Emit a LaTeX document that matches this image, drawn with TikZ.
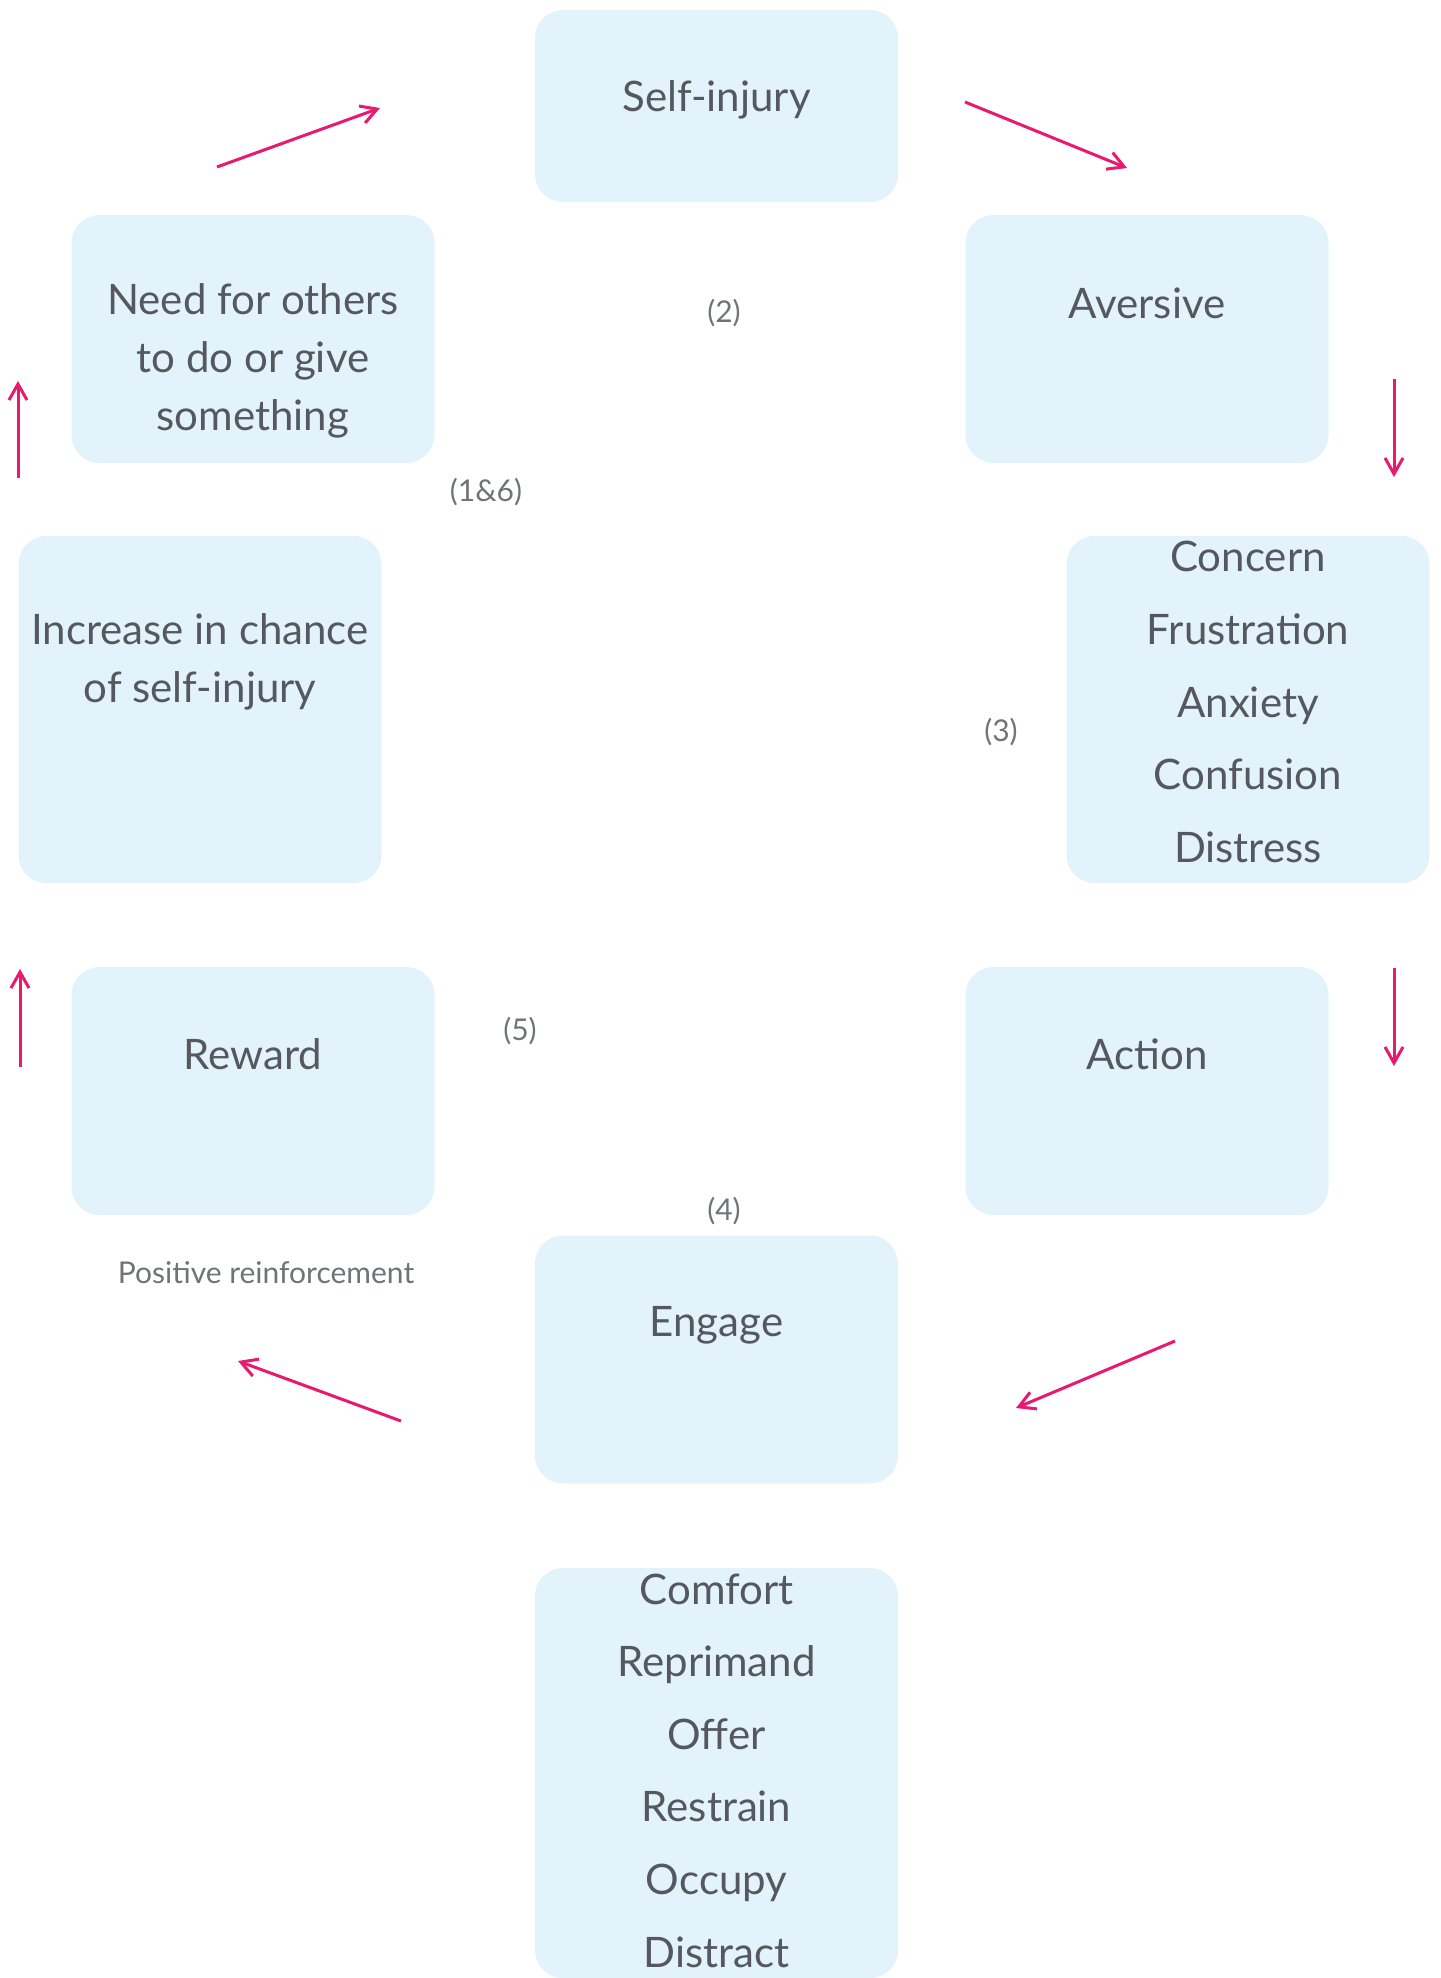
\documentclass[tikz,border=0pt]{standalone}
\usepackage{fontspec}
\setmainfont{Lato}
\usetikzlibrary{arrows.meta}

\definecolor{boxblue}{HTML}{E3F3FB}
\definecolor{flowpink}{HTML}{E8196E}
\definecolor{textgrey}{HTML}{55585E}
\definecolor{notegrey}{HTML}{707378}

\tikzset{
  stage/.style={fill=boxblue, rounded corners=14pt, minimum width=181.5pt, inner sep=0pt},
  stagetext/.style={text=textgrey, align=center, font=\fontsize{21}{29}\selectfont},
  listtext/.style={text=textgrey, align=center, font=\fontsize{21}{36.3}\selectfont},
  note/.style={text=notegrey, font=\fontsize{15}{18}\selectfont},
  flow/.style={draw=flowpink, line width=1.5pt, -{Straight Barb[length=8pt,width=9pt]}}
}

\begin{document}
\begin{tikzpicture}[x=0.5pt, y=-0.5pt]
    \useasboundingbox (0,0) rectangle (1441,1978);

    % boxes
    \node[stage, minimum height=96pt] (self) at (716.5,106) {};
    \node[stage, minimum height=124pt] (need) at (253,339) {};
    \node[stage, minimum height=124pt] (aversive) at (1147,339) {};
    \node[stage, minimum height=173.5pt] (increase) at (200,709.5) {};
    \node[stage, minimum height=173.5pt] (feelings) at (1248,709.5) {};
    \node[stage, minimum height=124pt] (reward) at (253,1091) {};
    \node[stage, minimum height=124pt] (action) at (1147,1091) {};
    \node[stage, minimum height=124pt] (engage) at (716.5,1359.5) {};
    \node[stage, minimum height=205pt] (responses) at (716.5,1773) {};

    % box texts
    \node[stagetext] (selfT) at (716.5,100) {Self-injury};
    \node[stagetext] (needT) at (253,361) {Need for others\\to do or give\\something};
    \node[stagetext] (aversiveT) at (1147,303) {Aversive};
    \node[stagetext] (increaseT) at (200,662) {Increase in chance\\of self-injury};
    \node[listtext] (feelingsT) at (1248,702) {Concern\\Frustration\\Anxiety\\Confusion\\Distress};
    \node[stagetext] (rewardT) at (253,1054) {Reward};
    \node[stagetext] (actionT) at (1147,1054) {Action};
    \node[stagetext] (engageT) at (716.5,1325) {Engage};
    \node[listtext] (responsesT) at (716.5,1770.5) {Comfort\\Reprimand\\Offer\\Restrain\\Occupy\\Distract};

    % step labels
    \node[note] (n2) at (724,313) {(2)};
    \node[note] (n16) at (486,492) {(1\&6)};
    \node[note] (n3) at (1001,732) {(3)};
    \node[note] (n5) at (520,1031) {(5)};
    \node[note] (n4) at (724,1211) {(4)};
    \node[note] (pos) at (266,1273) {Positive reinforcement};

    % arrow ends
    \coordinate (a1) at (217,167);   \coordinate (b1) at (380,108);
    \coordinate (a2) at (965,102);   \coordinate (b2) at (1127,168);
    \coordinate (a3) at (1394,379);  \coordinate (b3) at (1394,477);
    \coordinate (a4) at (1394,968);  \coordinate (b4) at (1394,1066);
    \coordinate (a5) at (1175,1341); \coordinate (b5) at (1016,1408);
    \coordinate (a6) at (401,1421);  \coordinate (b6) at (238,1361);
    \coordinate (a7) at (20,1067);   \coordinate (b7) at (20,969);
    \coordinate (a8) at (18,478);    \coordinate (b8) at (18,381);

    \draw[flow] (a1) -- (b1);
    \draw[flow] (a2) -- (b2);
    \draw[flow] (a3) -- (b3);
    \draw[flow] (a4) -- (b4);
    \draw[flow] (a5) -- (b5);
    \draw[flow] (a6) -- (b6);
    \draw[flow] (a7) -- (b7);
    \draw[flow] (a8) -- (b8);
\end{tikzpicture}
\end{document}
